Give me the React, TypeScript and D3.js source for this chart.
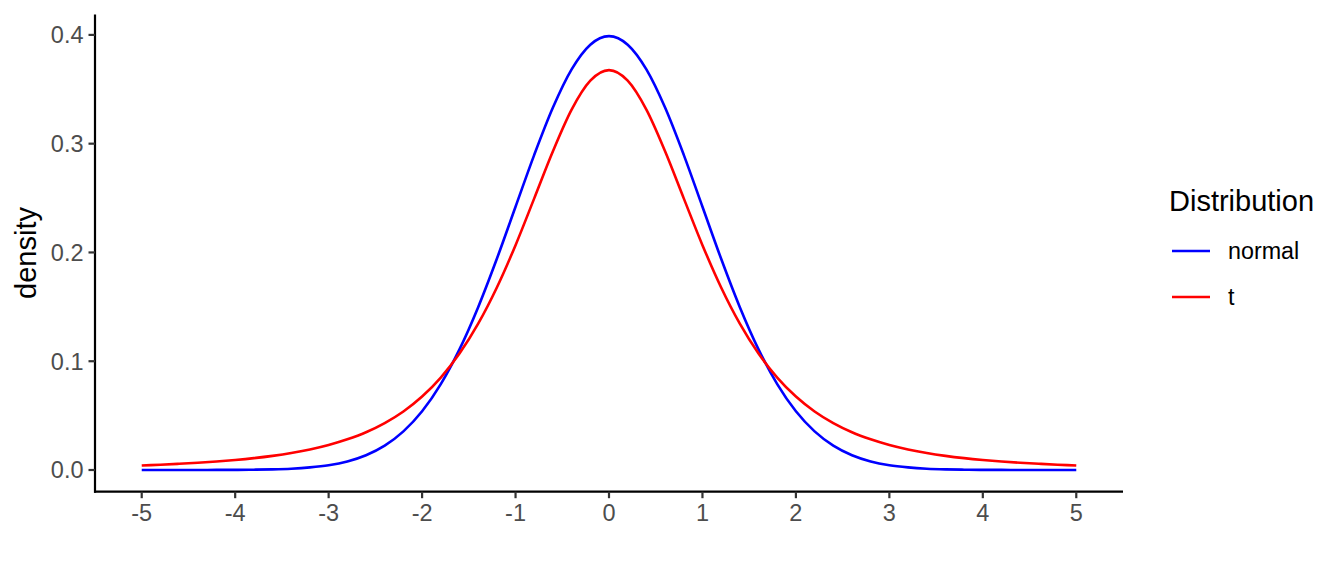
import React from "react";
import * as d3 from "d3";

// x positions (step 0.2 from -5 to 5)
const xValues: number[] = [
  -5, -4.8, -4.6, -4.4, -4.2, -4, -3.8, -3.6, -3.4, -3.2, -3, -2.8, -2.6, -2.4, -2.2, -2, -1.8, -1.6, -1.4, -1.2, -1,
  -0.8, -0.6, -0.4, -0.2, 0, 0.2, 0.4, 0.6, 0.8, 1, 1.2, 1.4, 1.6, 1.8, 2, 2.2, 2.4, 2.6, 2.8, 3, 3.2, 3.4, 3.6, 3.8,
  4, 4.2, 4.4, 4.6, 4.8, 5,
];

const normalValues: number[] = [
  0.0, 0.0, 0.0, 0.0, 0.0001, 0.0001, 0.0003, 0.0006, 0.0012, 0.0024, 0.0044, 0.0079, 0.0136, 0.0224, 0.0355, 0.054,
  0.079, 0.1109, 0.1497, 0.1942, 0.242, 0.2897, 0.3332, 0.3683, 0.391, 0.3989, 0.391, 0.3683, 0.3332, 0.2897, 0.242,
  0.1942, 0.1497, 0.1109, 0.079, 0.054, 0.0355, 0.0224, 0.0136, 0.0079, 0.0044, 0.0024, 0.0012, 0.0006, 0.0003,
  0.0001, 0.0001, 0.0, 0.0, 0.0, 0.0,
];

const tValues: number[] = [
  0.0042, 0.0049, 0.0057, 0.0066, 0.0078, 0.0092, 0.0109, 0.013, 0.0156, 0.0189, 0.023, 0.0282, 0.0347, 0.0431,
  0.0538, 0.0675, 0.085, 0.107, 0.1345, 0.1678, 0.2067, 0.2497, 0.293, 0.3313, 0.3579, 0.3676, 0.3579, 0.3313, 0.293,
  0.2497, 0.2067, 0.1678, 0.1345, 0.107, 0.085, 0.0675, 0.0538, 0.0431, 0.0347, 0.0282, 0.023, 0.0189, 0.0156, 0.013,
  0.0109, 0.0092, 0.0078, 0.0066, 0.0057, 0.0049, 0.0042,
];

const seriesNames: string[] = ["normal", "t"];
const seriesColors: string[] = ["#0000FF", "#FF0000"];
const xTicks: number[] = [-5, -4, -3, -2, -1, 0, 1, 2, 3, 4, 5];
const yTicks: number[] = [0, 0.1, 0.2, 0.3, 0.4];

const W = 1344;
const H = 576;
const FONT = "'Liberation Sans', Arial, Helvetica, sans-serif";

export default function App() {
  const xMin = d3.min(xValues)!;
  const xMax = d3.max(xValues)!;
  const yMax = d3.max([...normalValues, ...tValues])!;
  const xPad = (xMax - xMin) * 0.05;
  const yPad = yMax * 0.05;

  const left = 95;
  const right = 1123;
  const top = 14.4;
  const bottom = 491.7;

  const x = d3.scaleLinear().domain([xMin - xPad, xMax + xPad]).range([left, right]);
  const y = d3.scaleLinear().domain([0 - yPad, yMax + yPad]).range([bottom, top]);

  const line = d3
    .line<[number, number]>()
    .x((d) => x(d[0]))
    .y((d) => y(d[1]))
    .curve(d3.curveMonotoneX);

  const series = [normalValues, tValues];
  const tickLen = 6.5;
  const lw = 2.6;

  return (
    <div style={{ position: "absolute", left: 0, top: 0 }}>
      <svg width={W} height={H} style={{ display: "block", background: "#fff" }} fontFamily={FONT}>
        <rect x={0} y={0} width={W} height={H} fill="#fff" />
        {series.map((vals, i) => (
          <path
            key={seriesNames[i]}
            d={line(xValues.map((xv, j) => [xv, vals[j]] as [number, number])) || ""}
            fill="none"
            stroke={seriesColors[i]}
            strokeWidth={lw}
            strokeLinejoin="round"
          />
        ))}
        {/* axes */}
        <line x1={left} x2={left} y1={top} y2={bottom + 1} stroke="#000" strokeWidth={2.2} />
        <line x1={left - 1} x2={right} y1={bottom} y2={bottom} stroke="#000" strokeWidth={2.2} />
        {yTicks.map((t) => (
          <g key={"y" + t}>
            <line x1={left - tickLen} x2={left} y1={y(t)} y2={y(t)} stroke="#333" strokeWidth={2.2} />
            <text
              x={left - tickLen - 5}
              y={y(t)}
              dy="0.36em"
              textAnchor="end"
              fontSize={23.5}
              fill="#4D4D4D"
            >
              {d3.format(".1f")(t)}
            </text>
          </g>
        ))}
        {xTicks.map((t) => (
          <g key={"x" + t}>
            <line x1={x(t)} x2={x(t)} y1={bottom} y2={bottom + tickLen} stroke="#333" strokeWidth={2.2} />
            <text x={x(t)} y={bottom + tickLen + 5} dy="0.74em" textAnchor="middle" fontSize={23.5} fill="#4D4D4D">
              {t}
            </text>
          </g>
        ))}
        <text
          transform={`translate(36,253) rotate(-90)`}
          textAnchor="middle"
          fontSize={29}
          fill="#000"
        >
          density
        </text>
        {/* legend */}
        <text x={1169} y={211} fontSize={29} fill="#000">
          Distribution
        </text>
        {seriesNames.map((name, i) => (
          <g key={"leg" + name} transform={`translate(0, ${251 + i * 46})`}>
            <line x1={1172} x2={1210} y1={0} y2={0} stroke={seriesColors[i]} strokeWidth={lw} />
            <text x={1228} y={0} dy="0.36em" fontSize={23.3} fill="#000">
              {name}
            </text>
          </g>
        ))}
      </svg>
    </div>
  );
}
